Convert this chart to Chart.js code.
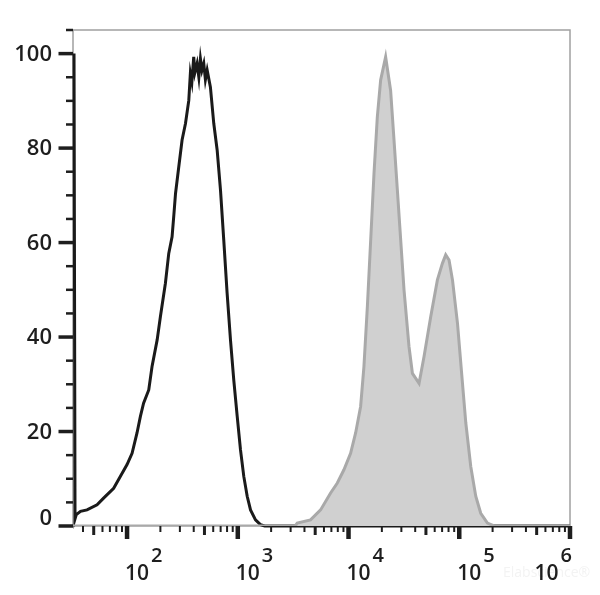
<!DOCTYPE html>
<html>
<head>
<meta charset="utf-8">
<script src="https://cdn.jsdelivr.net/npm/chart.js@4.4.0/dist/chart.umd.min.js"></script>
<style>
  body { margin: 0; background: #fff; }
  #wrap { width: 600px; height: 595px; position: relative; }
</style>
</head>
<body>
<div id="wrap"><canvas id="histo"></canvas></div>
<script>
// black outline histogram (control)
var controlX = [33.2, 33.9, 34.8, 38, 43.5, 53.6, 61.4, 75.7, 86.9, 100, 111, 123, 132, 141, 157, 168, 187, 200, 222, 238, 255, 265, 274, 293, 314, 337, 361, 373, 385, 400, 410, 429, 445, 460, 475, 493, 510, 529, 566, 607, 651, 698, 747, 801, 859, 920, 988, 1058, 1133, 1216, 1303, 1445, 1603, 1750, 1000000];
var controlY = [100, 1.5, 2.4, 3.1, 3.4, 4.5, 5.9, 8.0, 10.5, 13.0, 15.4, 19.7, 23.2, 26.0, 28.8, 33.7, 39.4, 44.3, 51.4, 57.7, 61.2, 66, 70.4, 76.0, 81.7, 85.2, 90.1, 95.8, 94, 99.3, 96, 97.9, 95, 98.9, 96.5, 97.9, 94.5, 96.5, 92.9, 85.2, 79.6, 71.1, 60.5, 49.3, 39.4, 30.9, 23.2, 16.1, 10.5, 6.3, 3.4, 1.3, 0.3, 0, 0];

// gray filled histogram (stained)
var stainedX = [32.5, 3300, 3443, 4540, 5593, 6889, 7921, 9085, 10440, 11590, 12860, 13770, 14790, 15850, 16980, 18200, 19500, 21630, 23990, 25750, 27610, 29590, 31700, 35160, 37760, 43350, 48080, 55230, 63490, 70450, 75450, 80850, 86840, 96380, 106900, 114600, 127000, 140900, 156300, 179700, 206500, 1000000];
var stainedY = [0, 0, 0.6, 1.3, 3.4, 7.0, 9.1, 11.9, 15.4, 19.7, 25.3, 33.7, 46.4, 60.5, 74.6, 86.6, 94.4, 99.3, 92.2, 81.7, 71.1, 60.5, 50.0, 38.0, 32.3, 30.2, 35.9, 44.3, 52.1, 55.6, 57.4, 56.3, 52.1, 42.9, 30.2, 21.8, 12.6, 6.3, 2.7, 0.6, 0, 0];

var xDecades = [2, 3, 4, 5, 6];
var yLabels = [0, 20, 40, 60, 80, 100];
var yMinorStep = 5;

var toPoints = function(xs, ys) {
  var pts = [];
  for (var i = 0; i < xs.length; i++) pts.push({ x: xs[i], y: ys[i] });
  return pts;
};

var axisPlugin = {
  id: "flowAxes",
  beforeDatasetsDraw: function(chart) {
    var ctx = chart.ctx, a = chart.chartArea;
    ctx.save();
    ctx.strokeStyle = "#a0a0a0";
    ctx.lineWidth = 1.5;
    ctx.strokeRect(a.left, a.top, a.right - a.left, a.bottom - a.top);
    ctx.restore();
  },
  afterDraw: function(chart) {
    var ctx = chart.ctx, a = chart.chartArea;
    var xs = chart.scales.x, ys = chart.scales.y;
    ctx.save();
    ctx.strokeStyle = "#1e1e1e";
    ctx.fillStyle = "#1e1e1e";

    // x ticks
    for (var d = 1; d <= 6; d++) {
      for (var m = 1; m <= 9; m++) {
        var v = m * Math.pow(10, d);
        if (v < xs.min || v > xs.max) continue;
        var px = xs.getPixelForValue(v);
        var len = 6, w = 2;
        if (m == 1) { len = 13; w = 4.5; }
        else if (m == 5) { len = 9; w = 3; }
        ctx.lineWidth = w;
        ctx.beginPath();
        ctx.moveTo(px, a.bottom);
        ctx.lineTo(px, a.bottom + len);
        ctx.stroke();
      }
    }

    // y ticks
    for (var t = 0; t <= ys.max; t += yMinorStep) {
      var py = ys.getPixelForValue(t);
      var major = yLabels.indexOf(t) >= 0;
      ctx.lineWidth = major ? 3.5 : 2.5;
      ctx.beginPath();
      ctx.moveTo(a.left - (major ? 14.5 : 7), py);
      ctx.lineTo(a.left, py);
      ctx.stroke();
    }

    // y labels
    ctx.font = "600 22px 'Open Sans'";
    ctx.textAlign = "right";
    ctx.textBaseline = "middle";
    yLabels.forEach(function(val) {
      var py = ys.getPixelForValue(val) + 1;
      if (val == 0) py -= 8;
      ctx.fillText(String(val), a.left - 21, py);
    });

    // watermark
    ctx.font = "14px 'Open Sans'";
    ctx.fillStyle = "#f3f3f3";
    ctx.textAlign = "left";
    ctx.textBaseline = "alphabetic";
    ctx.fillText("Elabscience\u00ae", 503, 577);

    // x labels: 10 with superscript exponent
    ctx.fillStyle = "#1e1e1e";
    xDecades.forEach(function(e, i) {
      var px = xs.getPixelForValue(Math.pow(10, e));
      ctx.font = "600 21px 'Open Sans'";
      var baseW = ctx.measureText("10").width;
      ctx.font = "600 20px 'Open Sans'";
      var expW = ctx.measureText(String(e)).width;
      var left = px - 2;
      if (i == xDecades.length - 1) left = px + 2 - baseW - 2 - expW;
      ctx.font = "600 21px 'Open Sans'";
      ctx.fillText("10", left, 580);
      ctx.font = "600 20px 'Open Sans'";
      ctx.fillText(String(e), left + baseW + 2, 562);
    });
    ctx.restore();
  }
};

new Chart(document.getElementById("histo").getContext("2d"), {
  type: "line",
  data: {
    datasets: [{
      label: "Stained",
      data: toPoints(stainedX, stainedY),
      borderColor: "#a9a9a9",
      backgroundColor: "#d0d0d0",
      borderWidth: 3,
      fill: "origin",
      pointRadius: 0,
      tension: 0
    }, {
      label: "Control",
      data: toPoints(controlX, controlY),
      borderColor: "#1a1a1a",
      borderWidth: 3,
      fill: false,
      pointRadius: 0,
      tension: 0,
      clip: 3
    }]
  },
  plugins: [axisPlugin],
  options: {
    responsive: true,
    maintainAspectRatio: false,
    animation: false,
    layout: { padding: { left: 73, top: 30, right: 30, bottom: 69 } },
    plugins: { legend: { display: false }, tooltip: { enabled: false } },
    scales: {
      x: { type: "logarithmic", min: 32.5, max: 1000000, display: false },
      y: { type: "linear", min: 0, max: 105, display: false }
    }
  }
});
</script>
</body>
</html>
